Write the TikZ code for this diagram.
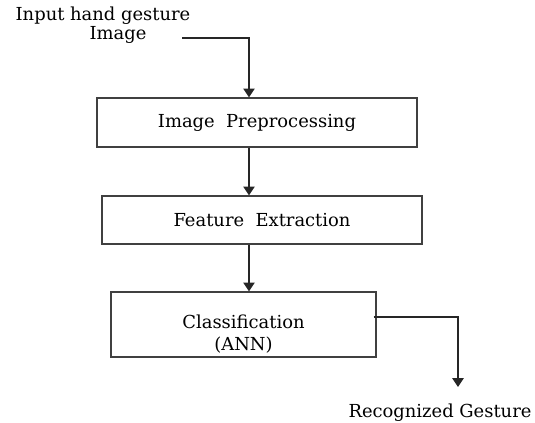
\documentclass[tikz,border=0pt]{standalone}
\usepackage{fontspec}
\setmainfont{DejaVu Serif}
\usetikzlibrary{arrows.meta}

\tikzset{
  stage/.style={draw=black!75, line width=0.75pt, inner sep=0pt, font=\fontsize{10.2}{12.5}\selectfont, align=center},
  label/.style={inner sep=0pt, font=\fontsize{10.2}{12.5}\selectfont},
  flow/.style={draw=black!85, line width=0.6pt, -{Triangle[width=6.5pt,length=5pt]}}
}

\begin{document}
\begin{tikzpicture}[x=0.02cm, y=-0.02cm]

  % --- Rahmen ---
  \useasboundingbox (0,0) rectangle (535,423);

  % --- Eingabe ---
  \node[label] (in1) at (103,16) {Input hand gesture};
  \node[label] (in2) at (118,35) {Image};
  \coordinate (start) at (182,38);

  % --- Stufen ---
  \node[stage, minimum width=6.4cm, minimum height=0.98cm] (pre) at (257,122.5) {Image\ \ Preprocessing};
  \node[stage, minimum width=6.4cm, minimum height=0.96cm] (feat) at (262,220) {Feature\ \ Extraction};
  \node[stage, minimum width=5.3cm, minimum height=1.3cm, text height=31pt] (cls) at (243.5,324.5) {Classification\\(ANN)};

  % --- Ausgabe ---
  \node[label] (rec) at (440,413) {Recognized Gesture};
  \coordinate (axis) at (249,0);
  \coordinate (end) at (458,387);

  % --- Pfeile ---
  \draw[flow] (start) -| (pre.north -| axis);
  \draw[flow] (pre.south -| axis) -- (feat.north -| axis);
  \draw[flow] (feat.south -| axis) -- (cls.north -| axis);
  \draw[flow] ([xshift=-0.06cm, yshift=0.15cm]cls.east) -| (end);

\end{tikzpicture}
\end{document}
